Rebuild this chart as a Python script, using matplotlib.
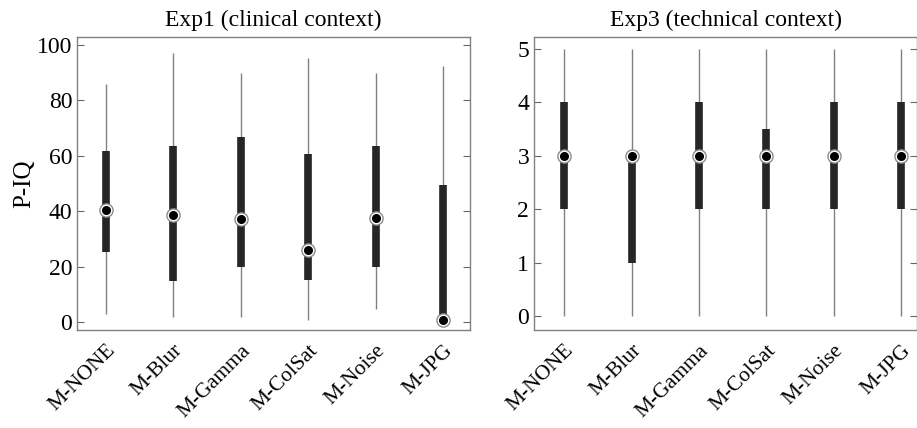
import matplotlib.pyplot as plt
import numpy as np

# Data
metodos = ['M-NONE', 'M-Blur', 'M-Gamma', 'M-ColSat', 'M-Noise', 'M-JPG']

exp1_wlo = [3.0, 1.8, 1.8, 0.6, 4.6, 0.0]
exp1_q1 = [25.1, 14.7, 19.9, 15.3, 19.9, 0.0]
exp1_med = [40.4, 38.8, 37.1, 26.1, 37.7, 0.6]
exp1_q3 = [61.7, 63.5, 66.9, 60.5, 63.5, 49.4]
exp1_whi = [85.8, 97.0, 90.0, 95.2, 90.0, 92.4]

exp3_wlo = [0, 0, 0, 0, 0, 0]
exp3_q1 = [2, 1, 2, 2, 2, 2]
exp3_med = [3, 3, 3, 3, 3, 3]
exp3_q3 = [4, 3, 4, 3.5, 4, 4]
exp3_whi = [5, 5, 5, 5, 5, 5]

plt.rcParams['font.family'] = ['Liberation Serif', 'DejaVu Serif']


def caja(ax, wlo, q1, med, q3, whi):
    pos = np.arange(1, len(metodos) + 1)
    ax.vlines(pos, wlo, whi, color='#808080', lw=1.0, zorder=1)
    ax.vlines(pos, q1, q3, color='#262626', lw=5.5, zorder=2)
    ax.plot(pos, med, 'o', ms=9.5, mfc='white', mec='#8c8c8c', mew=1.0, zorder=3, ls='none')
    ax.plot(pos, med, 'o', ms=5.5, mfc='black', mec='black', zorder=4, ls='none')
    ax.set_xticks(pos)
    ax.set_xticklabels(metodos, rotation=45, ha='right', va='top',
                       rotation_mode='anchor', fontsize=15.5)
    ax.tick_params(axis='x', length=0, pad=8)
    ax.tick_params(axis='y', direction='in', left=True, right=True,
                   labelsize=17, length=5, color='#666666')
    for s in ax.spines.values():
        s.set_color('#808080')
        s.set_linewidth(1.0)


fig = plt.figure(figsize=(9.17, 4.28), dpi=100)
ax1 = fig.add_axes([77 / 917, 1 - 330 / 428, 393 / 917, 293 / 428])
ax2 = fig.add_axes([534 / 917, 1 - 330 / 428, 383 / 917, 293 / 428])

caja(ax1, exp1_wlo, exp1_q1, exp1_med, exp1_q3, exp1_whi)
ax1.set_xlim(0.57, 6.4)
ax1.set_ylim(-2.9, 102.9)
ax1.set_yticks([0, 20, 40, 60, 80, 100])
ax1.set_ylabel('P-IQ', fontsize=18, labelpad=1)
ax1.set_title('Exp1 (clinical context)', fontsize=17, pad=8)

caja(ax2, exp3_wlo, exp3_q1, exp3_med, exp3_q3, exp3_whi)
ax2.set_xlim(0.55, 6.24)
ax2.set_ylim(-0.26, 5.22)
ax2.set_yticks([0, 1, 2, 3, 4, 5])
ax2.set_title('Exp3 (technical context)', fontsize=17, pad=8)

fig.savefig('out.png', dpi=100)
